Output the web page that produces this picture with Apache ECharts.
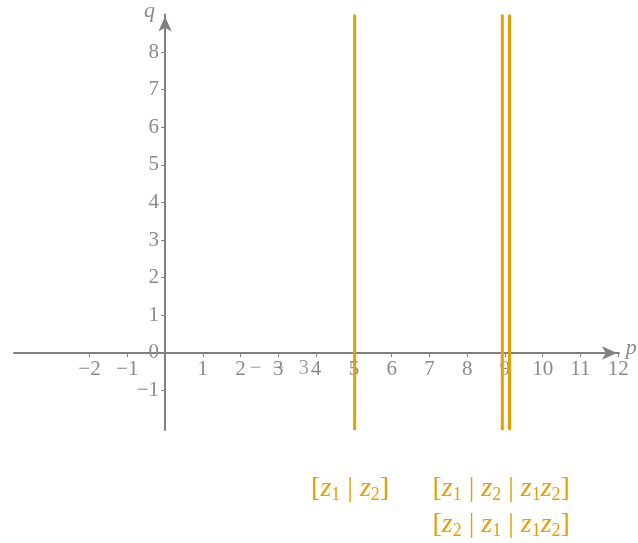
<!DOCTYPE html>
<html>
<head>
<meta charset="utf-8">
<script src="https://cdn.jsdelivr.net/npm/echarts@6/dist/echarts.min.js"></script>
<style>
  html, body { margin: 0; padding: 0; background: #fff; }
  #main { width: 638px; height: 543px; }
</style>
</head>
<body>
<div id="main"></div>
<script>
// data
const xTicks = [-2, -1, 1, 2, 3, 4, 5, 6, 7, 8, 9, 10, 11, 12];
const yTicks = [-1, 0, 1, 2, 3, 4, 5, 6, 7, 8];
// stray glyphs sitting on the x axis labels
const extraXLabels = [[2.4, '−'], [3.0, '−'], [3.67, '3']];
const lineXs = [5.02, 8.93, 9.12];
const lineYRange = [-2.05, 9];
// labels under the lines: [x, y, text]
const lineLabels = [
  [4.9, -3.6, '{b|[}{z|z}{s|1}{b| | }{z|z}{s|2}{b|]}'],
  [8.9, -3.6, '{b|[}{z|z}{s|1}{b| | }{z|z}{s|2}{b| | }{z|z}{s|1}{z|z}{s|2}{b|]}'],
  [8.9, -4.55, '{b|[}{z|z}{s|2}{b| | }{z|z}{s|1}{b| | }{z|z}{s|1}{z|z}{s|2}{b|]}']
];
// x axis name, placed just past the arrow
const xName = [12.2, 0.13, 'p'];

const gray = '#808080';
const txt = '#8a8a8a';
const orange = '#E69F00';
const font = 'Liberation Serif';

const xMin = -4, xMax = 12.02;
const gridLeft = 14, gridTop = 14.4, gridW = 605, gridH = 415.7;
// axes cross at the origin
const yOffset = -gridW * (0 - xMin) / (xMax - xMin);
const xOffset = -gridH * (0 - lineYRange[0]) / (9 - lineYRange[0]);

const series = lineXs.map(function (x) {
  return {
    type: 'line',
    data: [[x, lineYRange[0]], [x, lineYRange[1]]],
    showSymbol: false,
    lineStyle: { color: orange, width: 3 },
    z: 5
  };
});
series.push({
  type: 'scatter',
  symbolSize: 0,
  data: extraXLabels.map(function (d) { return { value: [d[0], 0], name: d[1] }; }),
  label: {
    show: true,
    position: 'bottom',
    distance: 5,
    formatter: '{b}',
    color: txt,
    fontFamily: font,
    fontSize: 21
  },
  z: 10,
  silent: true
});

const chart = echarts.init(document.getElementById('main'));
chart.setOption({
  animation: false,
  grid: { left: gridLeft, top: gridTop, width: gridW, height: gridH, outerBoundsMode: 'none' },
  xAxis: {
    type: 'value',
    min: xMin,
    max: xMax,
    position: 'bottom',
    offset: xOffset,
    splitLine: { show: false },
    axisLine: {
      onZero: false,
      lineStyle: { color: gray, width: 2 },
      symbol: ['none', 'arrow'],
      symbolSize: [10, 15],
      symbolOffset: [0, -2]
    },
    axisTick: { customValues: xTicks, length: 4, lineStyle: { color: gray } },
    axisLabel: {
      customValues: xTicks,
      margin: 6,
      color: txt,
      fontFamily: font,
      fontSize: 21,
      formatter: function (v) { return String(v).replace('-', '−'); }
    }
  },
  yAxis: {
    type: 'value',
    min: lineYRange[0],
    max: 9,
    position: 'left',
    offset: yOffset,
    name: 'q',
    nameGap: -8,
    nameTextStyle: { color: txt, fontFamily: font, fontStyle: 'italic', fontSize: 22, align: 'right', padding: [0, 10, 0, 0] },
    splitLine: { show: false },
    axisLine: {
      onZero: false,
      lineStyle: { color: gray, width: 2 },
      symbol: ['none', 'arrow'],
      symbolSize: [10, 15],
      symbolOffset: [0, -2]
    },
    axisTick: { customValues: yTicks.filter(function (v) { return v !== 0; }), length: 4, lineStyle: { color: gray } },
    axisLabel: {
      customValues: yTicks,
      margin: 6,
      color: txt,
      fontFamily: font,
      fontSize: 21,
      formatter: function (v) { return String(v).replace('-', '−'); }
    }
  },
  series: series
});

// text under the lines, placed from data coordinates
const rich = {
  b: { fontFamily: font, fontSize: 28, fill: orange },
  z: { fontFamily: font, fontSize: 28, fontStyle: 'italic', fill: orange },
  s: { fontFamily: font, fontSize: 18, fill: orange, padding: [14, 0, 0, 0] }
};
const graphics = lineLabels.map(function (d) {
  const p = chart.convertToPixel({ gridIndex: 0 }, [d[0], d[1]]);
  return {
    type: 'text',
    x: p[0],
    y: p[1],
    style: { text: d[2], rich: rich, fill: orange, align: 'center', verticalAlign: 'middle' }
  };
});
const np = chart.convertToPixel({ gridIndex: 0 }, [xName[0], xName[1]]);
graphics.push({
  type: 'text',
  x: np[0],
  y: np[1],
  style: { text: xName[2], fill: txt, font: 'italic 22px "Liberation Serif"', align: 'left', verticalAlign: 'middle' }
});
chart.setOption({ graphic: graphics });
</script>
</body>
</html>
